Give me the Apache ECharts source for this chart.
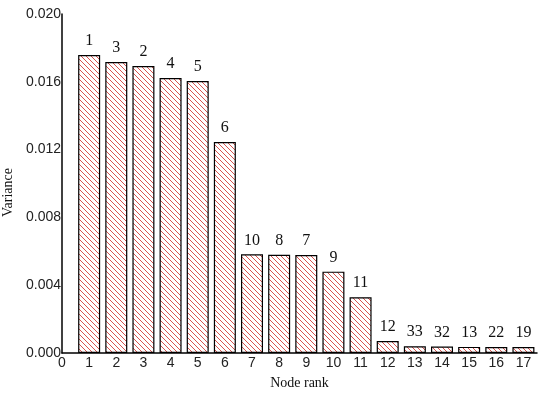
<!DOCTYPE html>
<html>
<head>
<meta charset="utf-8">
<script src="https://cdn.jsdelivr.net/npm/echarts@6/dist/echarts.min.js"></script>
<style>
  html, body { margin: 0; padding: 0; background: #fff; }
  #chart { width: 550px; height: 394px; }
</style>
</head>
<body>
<div id="chart"></div>
<script>
// node rank on x, variance on y, node id printed above each bar
const ranks = [1, 2, 3, 4, 5, 6, 7, 8, 9, 10, 11, 12, 13, 14, 15, 16, 17]
const variance = [0.01758, 0.01717, 0.01693, 0.01622, 0.01605, 0.01245, 0.00582, 0.00580,
    0.00578, 0.00480, 0.00329, 0.00071, 0.00040, 0.00038, 0.00036, 0.00035, 0.00035]
const nodeIds = ['1', '3', '2', '4', '5', '6', '10', '8', '7', '9', '11', '12', '33', '32', '13', '22', '19']

// red diagonal hatch fill
function hatch() {
    const s = 5
    const c = document.createElement('canvas')
    c.width = s
    c.height = s
    const ctx = c.getContext('2d')
    ctx.fillStyle = '#fff'
    ctx.fillRect(0, 0, s, s)
    ctx.strokeStyle = '#d9534f'
    ctx.lineWidth = 1
    ctx.beginPath()
    ctx.moveTo(-1, -1); ctx.lineTo(s + 1, s + 1)
    ctx.moveTo(-1, s - 1); ctx.lineTo(1, s + 1)
    ctx.moveTo(s - 1, -1); ctx.lineTo(s + 1, 1)
    ctx.stroke()
    return c
}

const chart = echarts.init(document.getElementById('chart'))
chart.setOption({
    animation: false,
    grid: { left: 62, right: 13, top: 14, bottom: 41, outerBoundsMode: 'none' },
    xAxis: {
        type: 'value',
        min: 0,
        max: 17.5,
        interval: 1,
        name: 'Node rank',
        nameLocation: 'middle',
        nameGap: 23,
        nameTextStyle: { fontFamily: 'Liberation Serif', fontSize: 14, color: '#111' },
        splitLine: { show: false },
        axisLine: { lineStyle: { color: '#000', width: 1.5 } },
        axisTick: { show: false },
        axisLabel: {
            showMaxLabel: false,
            margin: 3,
            fontFamily: 'Liberation Sans',
            fontSize: 14,
            color: '#222'
        }
    },
    yAxis: {
        type: 'value',
        min: 0,
        max: 0.02,
        interval: 0.004,
        name: 'Variance',
        nameLocation: 'middle',
        nameGap: 36,
        nameTextStyle: { fontFamily: 'Liberation Serif', fontSize: 14, color: '#111', padding: [0, 18, 0, 0] },
        splitLine: { show: false },
        axisLine: { show: true, lineStyle: { color: '#000', width: 1.5 } },
        axisTick: { show: false },
        axisLabel: {
            margin: 1,
            formatter: v => v.toFixed(3),
            fontFamily: 'Liberation Sans',
            fontSize: 14,
            color: '#222'
        }
    },
    series: [
        {
            type: 'bar',
            barWidth: 22,
            data: ranks.map((r, i) => [r, variance[i]]),
            itemStyle: {
                color: { image: hatch(), repeat: 'repeat' },
                borderColor: '#000',
                borderWidth: 1.2
            },
            label: {
                show: true,
                position: 'top',
                distance: 6,
                formatter: p => nodeIds[p.dataIndex],
                fontFamily: 'Liberation Serif',
                fontSize: 16,
                color: '#111'
            }
        }
    ]
})
</script>
</body>
</html>
